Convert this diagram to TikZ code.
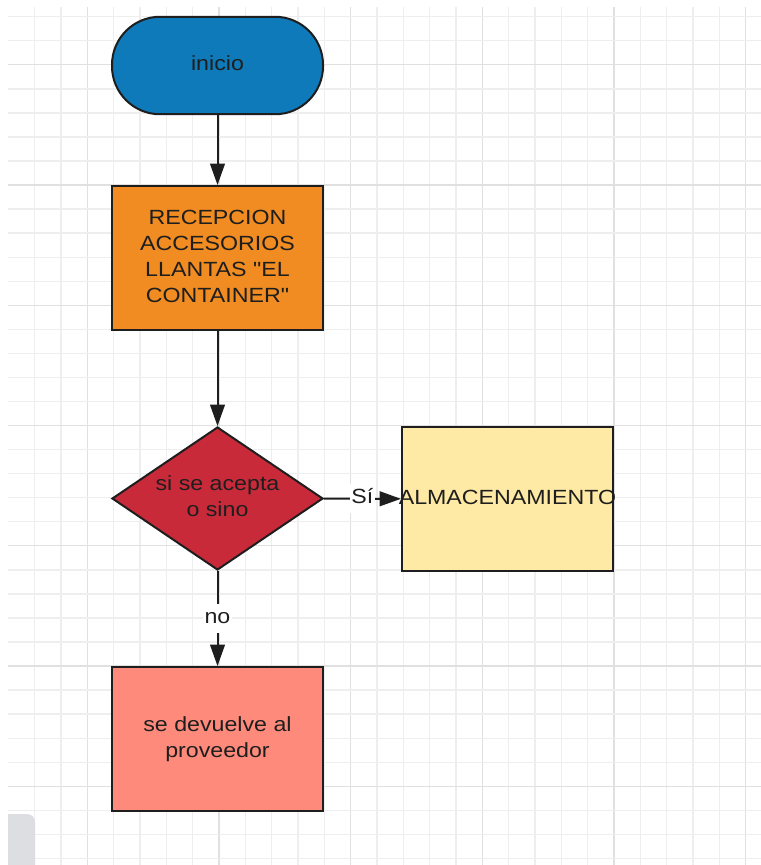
\documentclass[tikz,border=0pt]{standalone}
\usepackage{fontspec}
\newfontfamily\mainf{Liberation Sans}
\usepackage{graphicx}
\usetikzlibrary{arrows.meta,shapes.geometric}
\definecolor{gridl}{HTML}{EEEEEE}
\definecolor{gridd}{HTML}{E0E0E0}
\definecolor{linec}{HTML}{1E1E1E}
\definecolor{txtc}{HTML}{1E1E1E}
\definecolor{bluef}{HTML}{0E7AB9}
\definecolor{orangef}{HTML}{F08C22}
\definecolor{redf}{HTML}{C92A3A}
\definecolor{yellowf}{HTML}{FEE9A5}
\definecolor{salmonf}{HTML}{FE8A7B}
\definecolor{gboxc}{HTML}{DDDEE1}
\newcommand{\wtext}[1]{\scalebox{1.13}[1]{\begin{tabular}{@{}c@{}}#1\end{tabular}}}
\tikzset{
  base/.style={draw=linec, line width=1.5pt, inner sep=0pt, text=txtc,
    font=\mainf\fontsize{15.4}{19.5}\selectfont},
  procbox/.style={base, rectangle, minimum width=158.25pt, minimum height=108pt},
  termbox/.style={base, rectangle, rounded corners=36pt, minimum width=158.25pt, minimum height=73.1pt},
  decbox/.style={base, diamond, aspect=1.475, minimum width=158.25pt, minimum height=107.25pt},
  arr/.style={draw=linec, line width=1.5pt, -{Triangle[length=16pt,width=11pt]}},
  lbl/.style={fill=white, inner sep=1pt, text=txtc, font=\mainf\fontsize{15.4}{19.5}\selectfont},
}
\begin{document}
\begin{tikzpicture}[x=0.75pt, y=-0.75pt]
\useasboundingbox (0,0) rectangle (761,865);
\fill[white] (0,0) rectangle (761,865);
% grid
\foreach \k in {1,...,28}{
  \pgfmathtruncatemacro\m{mod(\k,5)}
  \ifnum\m=3 \def\gc{gridd}\else\def\gc{gridl}\fi
  \draw[\gc, line width=1pt] ({8.3+26.34*\k},7) -- ({8.3+26.34*\k},865);
}
\foreach \k in {0,...,35}{
  \pgfmathtruncatemacro\m{mod(\k,5)}
  \ifnum\m=2 \def\gc{gridd}\else\def\gc{gridl}\fi
  \draw[\gc, line width=1pt] (8,{16.7+24.05*\k}) -- (761,{16.7+24.05*\k});
}
\fill[gboxc] (8,865) -- (8,814) [rounded corners=6pt] -- (35,814) [sharp corners] -- (35,865) -- cycle;
% nodes
\node[termbox, fill=bluef] (ini) at (217.5,65.5) {\wtext{inicio}};
\node[procbox, fill=orangef] (rec) at (217.5,258) {\raisebox{3pt}{\wtext{RECEPCION\\ACCESORIOS\\LLANTAS "EL\\CONTAINER"}}};
\node[decbox, fill=redf] (dec) at (217.5,498.5) {\wtext{si se acepta\\o sino}};
\node[procbox, fill=yellowf] (alm) at (507.5,499) {\makebox[0pt]{\raisebox{2pt}{\wtext{ALMACENAMIENTO}}}};
\node[procbox, fill=salmonf] (dev) at (217.5,739) {\wtext{se devuelve al\\proveedor}};
% connectors
\draw[arr] (ini) -- (rec);
\draw[arr] (rec) -- (dec);
\draw[arr] (dec) -- node[lbl] (lno) {\wtext{no}} (dev);
\draw[arr] (dec) -- node[lbl] (lsi) {\wtext{Sí}} (alm);
\end{tikzpicture}
\end{document}
